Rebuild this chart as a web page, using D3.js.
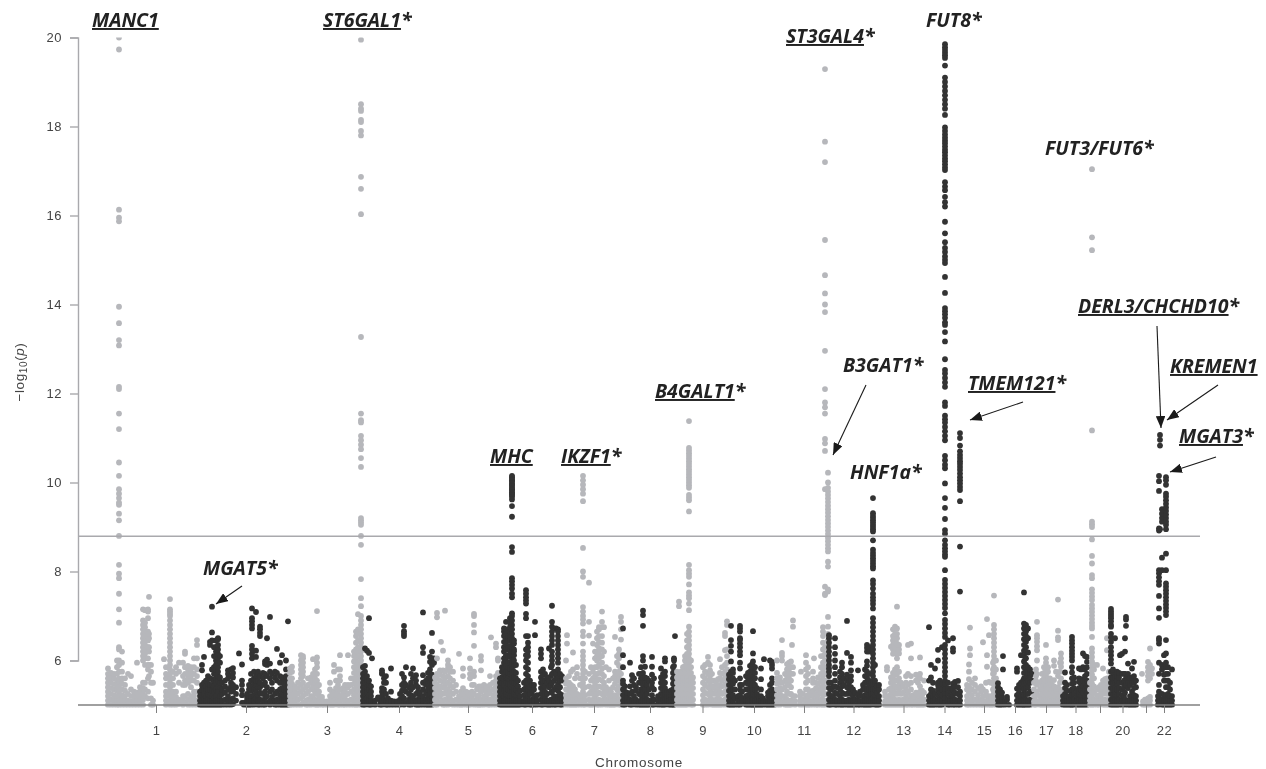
<!DOCTYPE html>
<html>
<head>
<meta charset="utf-8">
<title>Manhattan plot</title>
<script src="https://cdn.jsdelivr.net/npm/d3@7"></script>
<style>
  html, body { margin: 0; padding: 0; background: #fff; }
  #chart { width: 1266px; height: 769px; overflow: hidden; }
  svg { display: block; filter: blur(0.35px); }
  .gene { font-family: "Open Sans", sans-serif; font-weight: 700; font-style: italic; fill: #222; }
  .gene .name { text-decoration: underline; }
  .tick text, .axis-title { font-family: "Liberation Sans", sans-serif; fill: #444; }
</style>
</head>
<body>
<div id="chart"></div>
<script>
// Axis values
const yTicks = [6, 8, 10, 12, 14, 16, 18, 20];
const threshold = 8.79;
const chromosomeLabels = ['1','2','3','4','5','6','7','8','9','10','11','12','13','14','15','16','17','18','','20','','22'];
// Genome units: start of each chromosome and where its tick sits
const chromosomeStarts = [29,121,211,284,356,422,487,543,598,651,699,751,807,850,888,919,955,984,1010,1032,1064,1079];
const chromosomeTicks = [78,168,249,321,390,454,516,572,624.5,676,726,775.5,825.5,866.5,906,937,968,997.5,1022,1044.5,1068,1086];

// Each row: offset inside the chromosome, then the -log10(p) values read at that offset
const chr1 = [
  [1,5,5.1,5.2,5.3,5.4,5.5,5.6,5.7,5.82],
  [4,5,5.12,5.25,5.38,5.5,5.62,5.72],
  [7,5,5.1,5.22,5.35,5.47,5.6,5.7],
  [10,5,5.1,5.2,5.32,5.45,5.55,5.7,5.85,6.0],
  [12,20,19.73,16.13,15.95,15.87,13.95,13.58,13.2,13.08,12.15,12.1,11.55,11.2,10.45,10.15,9.85,9.75,9.65,9.55,9.5,9.3,9.15,8.8,8.15,7.95,7.85,7.5,7.15,6.85,6.3,6.25,6,5.9,5.75,5.6,5.5,5.4,5.3,5.2,5.1,5],
  [15,5,5.1,5.22,5.35,5.48,5.6,5.75,5.95,6.2],
  [18,5,5.1,5.2,5.32,5.45,5.6],
  [21,5,5.1,5.25,5.7],
  [24,5,5.08,5.2,5.35,5.65],
  [27,5,5.1,5.2,5.3],
  [30,5,5.1,5.2,5.28,5.95],
  [33,5,5.1,5.2,5.3,5.4],
  [36,5,5.12,5.25,5.38,5.5,6,6.1,6.2,6.3,6.4,6.5,6.6,6.7,6.8,6.9,7.15],
  [38,5.2,5.35,5.5,5.9,6.05,6.15,6.25,6.35,6.45,6.55,6.65,6.75,6.85,7.13],
  [41,5.15,5.3,5.6,5.8,5.9,6.05,6.3,6.45,6.55,6.65,6.95,7.15,7.1],
  [42,5.65,5.9,6.2,6.3,6.5,6.6,7.43],
  [44,5,5.15,5.5,5.75,5.9],
  [46,5,5.1,5.5],
  [57,6.03],
  [59,5,5.1,5.2,5.3,5.45,5.6,5.7,5.85],
  [63,5,5.1,5.2,5.3,5.4,5.5,5.6,5.7,5.8,5.9,6,6.1,6.2,6.3,6.4,6.5,6.6,6.7,6.8,6.9,7,7.05,7.1,7.15,7.38],
  [66,5,5.1,5.2,5.3,5.45,5.6,5.75],
  [69,5,5.1,5.18,5.3,5.7,5.85],
  [72,5.02,5.12,5.5,5.75,5.95],
  [76,5,5.1,5.2,5.45,5.65,5.95],
  [78,5.05,5.2,5.45,5.55,5.7,5.85,6.2,6.15],
  [81,5,5.12,5.25,5.5,5.6,5.7,5.8,5.88],
  [84,5,5.1,5.2,5.4,5.55,5.65,5.75,5.85],
  [87,5,5.1,5.2,5.3,5.55,5.7,5.85,6.05],
  [90,5,5.1,5.3,5.5,5.65,5.8,6.05,6.35,6.46]
];
const chr2 = [
  [1,5,5.1,5.2,5.3],
  [3,5,5.1,5.22,5.35,5.45,5.78,5.9],
  [5,5,5.12,5.25,5.38,5.5,6.08],
  [7,5,5.1,5.2,5.32,5.42,5.55],
  [9,5,5.12,5.25,5.35,5.47,5.58,5.65],
  [11,5,5.1,5.22,5.35,5.45,5.6,6.35,6.42],
  [13,5,5.1,5.2,5.32,5.45,5.58,5.8,6.45,6.63,7.21],
  [15,5,5.15,5.3,5.42,5.55,5.7,5.85,6.1,6.3],
  [17,5,5.1,5.2,5.35,5.5,5.6,5.7,5.8,5.9,6,6.1,6.2,6.3,6.45],
  [19,5,5.12,5.3,5.4,5.55,5.65,5.75,5.85,5.95,6.05,6.15,6.25,6.35,6.5,6.48],
  [21,5,5.1,5.2,5.4,5.5,5.62,5.95,6.1],
  [23,5,5.1,5.25,5.35,5.5],
  [26,5,5.12,5.28,5.42,5.55],
  [29,5,5.1,5.2,5.35,5.6,5.7,5.78],
  [32,5,5.12,5.3,5.42,5.5,5.65,5.8],
  [34,5.02,5.15,5.32,5.45,5.62,5.72,5.83],
  [37,5.1,5.25,5.4],
  [40,6.16],
  [43,5.05,5.22,5.33,5.45,5.55,5.91],
  [45,5,5.05],
  [48,5,5.1,5.18,5.25],
  [50,5,5.08,5.2,5.35,5.45],
  [52,5,5.1,5.2,5.32,5.42,5.55,5.7],
  [53,6.05,6.15,6.25,6.33,6.72,6.8,6.88,6.95,7.17],
  [55,5,5.1,5.22,5.35,5.48,5.6,5.75],
  [57,5.02,5.15,5.3,5.45,5.55,5.65,6.08,6.22,7.09],
  [59,5,5.1,5.22,5.4,5.55,5.7,5.75],
  [61,5,5.12,5.28,5.4,5.5,5.65,6.55,6.62,6.7,6.76],
  [64,5,5.1,5.25,5.45,5.6,5.72],
  [66,5,5.15,5.3,5.5,5.7,5.92,5.98],
  [68,5.05,5.2,5.4,5.65,5.9,6.02,6.5],
  [71,5,5.1,5.3,5.6,5.75,5.93,6.98],
  [73,5.05,5.18,5.35,5.5,5.7],
  [76,5,5.1,5.25,5.62,5.75],
  [78,5,5.12,5.3,5.55,5.72,6.26],
  [81,5,5.1,5.22,5.35,5.5,5.65,5.95],
  [83,5,5.12,5.25,5.38,5.52,5.62,6.12],
  [85,5,5.1,5.22,5.35,5.48,5.6],
  [87,5,5.12,5.25,5.38,5.5,5.65,5.8,6.0],
  [89,5,5.1,5.2,5.35,5.48,5.6,6.88]
];
const chr3 = [
  [1,5,5.1,5.2,5.3,5.4,5.5,5.6,5.72,5.82],
  [3,5,5.1,5.22,5.35,5.48,5.6,5.75,5.86],
  [6,5,5.1,5.2,5.3,5.42],
  [9,5,5.12,5.25,5.38,5.5],
  [12,5,5.15,5.3,5.45,5.6,5.7,5.8,5.9,6,6.12],
  [14,5.05,5.2,5.35,5.5,5.65,5.75,5.85,5.95,6.05,6.1],
  [17,5,5.1,5.25,5.4],
  [19,5,5.12,5.3,5.45,5.6],
  [22,5,5.1,5.2,5.35,5.5,5.62],
  [24,5.05,5.2,5.4,5.55,5.7,6.03],
  [26,5,5.12,5.3,5.5,5.6,5.7,5.8],
  [28,5,5.1,5.25,5.4,5.55,5.7,5.85,5.95,6.07,7.11],
  [30,5,5.1,5.2,5.3,5.45],
  [33,5,5.1,5.18],
  [35,5,5.08],
  [38,5,5.08],
  [41,5,5.1,5.2,5.35,5.5],
  [43,5,5.12,5.3],
  [45,5,5.1,5.2,5.3,5.75,5.9],
  [47,5.05,5.22,5.38,5.55],
  [49,5,5.12,5.3,5.45,5.55,5.8],
  [51,5,5.1,5.2,5.35,5.55,5.65,5.8,6.12],
  [54,5,5.12,5.25,5.38],
  [56,5,5.1,5.2,5.32,5.45],
  [59,5,5.1,5.25,5.4,5.45,6.12],
  [62,5,5.12,5.3,5.45,5.6],
  [65,5,5.1,5.22,5.35,5.48,5.6,5.72,5.85,5.98,6.1,6.2],
  [67,5,5.12,5.25,5.38,5.5,5.62,5.75,5.88,6,6.12,6.25,6.4,6.55,6.65],
  [69,5,5.1,5.2,5.33,5.45,5.58,5.7,5.83,5.95,6.08,6.2,6.3,6.45,6.6,6.7,7.04],
  [72,19.95,18.5,18.4,18.35,18.15,18.1,17.9,17.8,16.87,16.6,16.03,13.27,11.55,11.4,11.35,11.05,10.95,10.85,10.75,10.55,10.35,9.2,9.15,9.1,9.05,8.8,8.6,7.83,7.4,7.22,7,6.9,6.8,6.7,6.6,6.5,6.4,6.3,6.2,6.1,6,5.9,5.8,5.7,5.6,5.5,5.4,5.3,5.2,5.1,5]
];
const chr4 = [
  [1,5,5.1,5.2,5.3,5.4,5.5,5.6,5.7,5.85],
  [3,5,5.12,5.25,5.38,5.5,5.62,5.75,5.88,6.27],
  [5,5.02,5.15,5.28,5.4,5.52,5.65,6.22],
  [7,5,5.1,5.22,5.35,5.45,5.55,6.17,6.95],
  [9,5,5.1,5.2,5.3,5.42],
  [10,6.05],
  [13,5,5.1],
  [16,5.17],
  [18,5,5.1],
  [20,5,5.1,5.2,5.3,5.38,5.7,5.72,5.78],
  [22,5.02,5.12,5.25,5.35,5.5,5.6],
  [24,5,5.1,5.25,5.5,5.65],
  [26,5,5.1,5.15],
  [29,5,5.1,5.3,5.82],
  [32,5,5.08],
  [35,5,5.08],
  [38,5,5.12,5.25],
  [40,5.05,5.2,5.32,5.45,5.7],
  [42,5,5.15,5.4,5.5,5.62,6.55,6.6,6.66,6.78],
  [44,5.05,5.3,5.45,5.85],
  [47,5,5.12,5.25,5.4],
  [49,5,5.1,5.22,5.35,5.5,5.7],
  [51,5.05,5.18,5.4,5.6,5.82],
  [54,5,5.1,5.25,5.45,5.55,5.67],
  [56,5,5.12,5.3,5.4],
  [58,5,5.1,5.2,5.28],
  [61,5,5.1,5.2,5.35,5.5,5.67,6.17,6.3,7.08],
  [64,5,5.12,5.28,5.45,5.55],
  [66,5,5.1,5.22,5.35,5.48,5.6,5.72],
  [68,5,5.12,5.25,5.38,5.5,5.62,5.8,5.97,6.08],
  [70,5,5.1,5.2,5.32,5.45,5.58,5.68,5.9,6.05,6.2,6.62],
  [72,5.1,5.3,5.5,5.65,5.95,6.05]
];
const chr5 = [
  [1,5,5.12,5.25,5.38,5.5,5.62],
  [3,5,5.1,5.22,5.35,5.45,5.6,5.7,6.05,6.97,7.07],
  [6,5.05,5.18,5.3,5.42,5.55,5.68,5.78],
  [7,6.42],
  [9,5,5.1,5.25,5.4,5.52,5.65,5.78,6.22],
  [11,5,5.12,5.28,5.4,5.5,5.62,5.75,7.12],
  [14,5,5.1,5.22,5.35,5.5,5.65,5.82,5.9,6],
  [16,5.02,5.15,5.3,5.45,5.6,5.75,5.85],
  [19,5,5.1,5.25,5.4,5.55,5.75],
  [22,5,5.12,5.3,5.45],
  [25,5,5.1,5.2,6.15],
  [27,5,5.1,5.2,5.3],
  [29,5,5.12,5.25,5.38,5.65,5.82],
  [32,5,5.1,5.2,5.3],
  [34,5,5.1,5.18,5.28],
  [36,5,5.1,5.22,5.6,5.7,5.82,6.05],
  [38,5.05,5.15,5.3,5.45],
  [40,5,5.1,5.25,5.45,5.65,5.75,6.33,6.63,6.8,7,7.05],
  [43,5,5.12,5.2,5.35],
  [45,5,5.1,5.22,5.42],
  [47,5,5.12,5.3,5.42,5.78,6,6.1],
  [50,5,5.1,5.2,5.35,5.45],
  [52,5.05,5.18,5.3,5.42],
  [54,5,5.1,5.25,5.38],
  [56,5,5.12,5.3,5.45,5.65],
  [57,6.52],
  [59,5,5.1,5.22,5.35,5.5],
  [62,5,5.12,5.28,5.42,5.55,5.65,6.3,6.38],
  [64,5.05,5.2,5.35,5.5,5.6,5.72,6,6.05]
];
const chr6 = [
  [0,5,5.1,5.2,5.3,5.4,5.5,5.6],
  [2,5,5.12,5.25,5.38,5.5,5.62,5.75,5.85],
  [4,5,5.1,5.2,5.32,5.45,5.58,5.7,5.82,5.95,6.05,6.2,6.3,6.42,6.55,6.65,6.72],
  [6,5,5.12,5.25,5.38,5.5,5.62,5.75,5.88,6,6.12,6.25,6.38,6.5,6.6,6.7,6.87],
  [8,5,5.1,5.22,5.35,5.48,5.6,5.72,5.85,5.95,6.1,6.28,6.45,6.55],
  [10,5,5.1,5.2,5.32,5.45,5.58,5.7,5.82,5.95,6.08,6.2,6.32,6.45,6.55,6.65,6.75,6.85,6.95],
  [12,10.15,10.12,10.08,10.05,10.02,9.98,9.95,9.92,9.88,9.85,9.82,9.78,9.75,9.72,9.68,9.62,9.47,9.23,8.55,8.44,7.85,7.78,7.7,7.62,7.5,7.42,7.06,7,6.9,6.8,6.7,6.6,6.5,6.4,6.3,6.2,6.1,6,5.9,5.8,5.7,5.6,5.5,5.4,5.3,5.2,5.1,5],
  [14,5,5.12,5.25,5.38,5.5,5.62,5.75,5.88,6,6.12,6.25,6.38,6.45,6.2],
  [16,5,5.1,5.22,5.35,5.48,5.6,5.72,5.9],
  [18,5,5.12,5.28,5.42,5.55],
  [20,5,5.1,5.2,5.32],
  [24,5,5.1,5.22,5.35,5.5],
  [26,5,5.12,5.25,5.4,5.55,5.7,5.85,6,6.12,6.25,6.55,6.95,7.05,7.28,7.35,7.42,7.5,7.58],
  [28,5.05,5.2,5.35,5.5,5.65,5.8,5.95,6.1,6.2,6.3,6.4,6.55],
  [30,5,5.1,5.25,5.4,5.55],
  [32,5,5.12,5.3,5.45],
  [34,5,5.1,5.2,5.35,5.45],
  [35,6.57,6.87],
  [37,5,5.1,5.22],
  [41,5,5.12,5.25,5.38,5.5,5.62,5.75,6.05,6.15,6.25],
  [43,5,5.1,5.2,5.32,5.45,5.55,5.68,5.8],
  [45,5.05,5.18,5.3,5.42,5.55,5.7],
  [47,5,5.1,5.25,5.5,5.62],
  [49,5,5.1,5.4,5.55,6.27],
  [51,5,5.12,5.28,5.45,5.65,5.85],
  [52,5.1,5.3,5.5,5.7,5.9,6,6.1,6.2,6.35,6.45,6.55,6.65,6.76,6.87,7.23],
  [54,5,5.1,5.2,5.35,5.55,5.75],
  [56,5,5.15,5.4,5.6,5.7,6.72],
  [58,5.05,5.2,5.32,5.48,5.6,5.8,5.95,6.05,6.15,6.25,6.35,6.45,6.55,6.65,6.7],
  [60,5,5.12,5.25,5.4,5.55,5.7],
  [62,5,5.1,5.22,5.55,5.65]
];
const chr7 = [
  [1,5,5.1,5.22,5.35,5.48,5.6,6],
  [2,6.38,6.57],
  [4,5,5.12,5.25,5.38,5.5,5.65],
  [6,5,5.1,5.2,5.32,5.45,5.75],
  [8,5,5.12,5.28,5.42,5.8,6.18],
  [10,5,5.1,5.22,5.35,5.6],
  [12,5,5.12,5.25,5.7,5.85],
  [15,5,5.1,5.22,5.45,5.6],
  [18,10.15,10.05,9.95,9.85,9.75,9.58,8.53,8,7.88,7.2,7.1,7,6.92,6.83,6.65,6.55,6.38,6.2,6.1,6,5.9,5.8,5.7,5.6,5.5,5.4,5.3,5.2,5.1,5],
  [20,5,5.1,5.22,5.4,5.6,5.75],
  [24,5,5.12,5.25,5.42,5.7,6.56,6.87,7.75],
  [26,5,5.1,5.3,5.55,5.85],
  [28,5,5.12,5.25,5.4,5.6,5.75,6.38],
  [30,5.05,5.2,5.35,5.5,5.65,5.85,6.05,6.2],
  [32,5,5.1,5.25,5.4,5.55,5.7,5.85,6,6.1,6.2,6.35,6.5,6.65],
  [34,5,5.12,5.28,5.42,5.58,5.72,5.9,6.05,6.15,6.28,6.42,6.55,6.7,6.75],
  [37,5,5.1,5.25,5.4,5.55,5.7,5.82,5.95,6.1,6.25,6.4,6.55,6.75,6.87,7.1],
  [39,5.05,5.2,5.35,5.5,5.65,6.2,6.75],
  [41,5,5.12,5.28,5.4,5.85],
  [44,5,5.1,5.22,5.35,5.55,5.8],
  [46,5,5.12,5.3],
  [48,5,5.1,5.2,5.4,5.6],
  [50,5,5.1,5.22,5.48,5.65,5.75,6.53],
  [52,5.05,5.2,5.35,5.55,5.7,5.95,6.1],
  [54,5,5.12,5.28,5.42,5.6,5.75,5.88,6.05,6.15,6.25],
  [56,5,5.1,5.3,5.5,5.7,5.85,6.47,6.7,6.87,6.98]
];
const chr8 = [
  [2,5,5.1,5.22,5.35,5.48,5.55,5.85,6.12,6.72],
  [4,5,5.12,5.3,5.42],
  [6,5.05,5.18,5.28],
  [9,5,5.12,5.25,5.42,5.95],
  [11,5,5.1,5.3,5.55,5.67],
  [13,5.05,5.2,5.45,5.6],
  [15,5,5.12,5.32,5.4],
  [18,5,5.08,5.25,5.5,5.7],
  [20,5,5.1,5.22,5.35,5.5,5.6,5.7,5.85],
  [22,5,5.12,5.3,5.45,5.6,5.72,6,6.1,6.78,7.02,7.12],
  [24,5,5.08,5.2,5.35,5.5,5.62,5.86],
  [26,5,5.12,5.25,5.45,5.6],
  [28,5,5.1,5.35,5.55],
  [31,5,5.1,5.22,5.4,5.5,5.68,5.86,6.08],
  [33,5,5.12,5.35,5.6],
  [37,5,5.1,5.2],
  [40,5,5.12,5.25,5.38,5.5,5.62,5.82],
  [42,5,5.1,5.22,5.35,5.45,5.55,5.7],
  [44,5,5.12,5.25,5.38,5.5,5.65,5.75,5.98,6.05],
  [46,5.05,5.18,5.3],
  [48,5,5.1,5.2,5.3],
  [50,5,5.12,5.22,5.33],
  [52,5,5.1,5.22,5.35,5.48,5.6,5.72,5.85],
  [53,5,5.12,5.25,5.38,5.5,5.62,5.75,5.88,6,6.05],
  [54,6.55]
];
const chr9 = [
  [1,5,5.12,5.25,5.38,5.5,5.62,5.75],
  [3,5,5.1,5.22,5.35,5.48,5.6,5.7,7.22,7.32],
  [5,5,5.12,5.25,5.38,5.5,5.62,5.75],
  [7,5,5.1,5.22,5.35,5.48,5.6,5.72,5.85],
  [9,5,5.12,5.25,5.38,5.5,5.62,5.75,5.88,6,6.1],
  [11,5,5.1,5.22,5.35,5.48,5.6,5.72,5.85,5.95,6.05,6.15,6.3,6.45,6.6],
  [13,11.38,10.78,10.72,10.66,10.6,10.54,10.48,10.42,10.36,10.3,10.24,10.18,10.12,10.06,10,9.94,9.88,9.72,9.66,9.6,9.35,8.15,8.03,7.95,7.88,7.71,7.53,7.46,7.4,7.28,7.13,6.76,6.65,6.55,6.45,6.35,6.25,6.15,6.05,5.95,5.85,5.75,5.65,5.55,5.45,5.35,5.25,5.15,5.05],
  [15,5,5.1,5.22,5.35,5.48,5.6,5.72,5.85,6],
  [17,5,5.12,5.25,5.38,5.5,5.62],
  [27,5,5.1,5.22,5.35,5.5,5.65,5.85],
  [29,5,5.12,5.28,5.45,5.6,5.75,5.9],
  [32,5,5.1,5.25,5.4,5.55,5.7,5.95,6.08],
  [34,5.05,5.2,5.35,5.5,5.65,5.78,5.9],
  [36,5,5.12,5.28,5.42,5.55,5.7],
  [38,5,5.1,5.25,5.4,5.55],
  [40,5,5.12,5.3,5.5],
  [42,5,5.1,5.22,5.4,5.58],
  [44,5,5.12,5.3,5.45,5.6,5.72,6.03],
  [46,5,5.1,5.25,5.42,5.55,5.7,5.85],
  [49,5,5.12,5.3,5.45,5.6,5.75,5.9,6.23,6.55,6.62],
  [51,5.05,5.2,5.35,5.5,5.65,5.8,5.95,6.1,6.25,6.8,6.88],
  [52,5,5.12,5.3,5.5,5.65]
];
const chr10 = [
  [0,5,5.1,5.2,5.32,5.45,5.58,5.68],
  [2,5,5.12,5.25,5.38,5.5,5.62,5.75,5.98,6.2,6.33,6.46,6.78],
  [4,5,5.1,5.22,5.35,5.48,5.6,5.72,5.8],
  [6,5,5.15,5.35,5.55],
  [9,5,5.1,5.2],
  [11,5,5.1,5.22,5.35,5.45,5.6,5.82,5.95,6.12,6.2,6.3,6.38,6.46,6.5,6.65,6.72,6.78],
  [13,5.05,5.15,5.3,5.45],
  [17,5,5.1,5.2,5.35,5.5,5.65],
  [19,5,5.1,5.22,5.35,5.48,5.6,5.72],
  [21,5,5.12,5.25,5.38,5.5,5.62,5.75,5.88],
  [23,5,5.1,5.2,5.32,5.45,5.58,5.7,5.82,5.92],
  [24,5,5.12,5.25,5.38,5.5,5.62,5.75,5.88,5.98,6.16,6.66],
  [26,5,5.1,5.22,5.35,5.45,5.6,5.72,5.85],
  [28,5,5.12,5.25,5.38],
  [30,5,5.1,5.18],
  [32,5,5.1,5.2,5.35,5.58,5.82],
  [34,5,5.08,5.15],
  [35,6.03],
  [37,5,5.08],
  [39,5,5.1,5.2,5.28],
  [41,5,5.1,5.22,5.32,5.45,6],
  [43,5,5.12,5.25,5.35,5.5,5.6,5.82,5.9,5.97],
  [45,5,5.1,5.2,5.3]
];
const chr11 = [
  [0,5,5.1,5.22,5.35,5.48,5.6,5.72,6],
  [3,5,5.12,5.25,5.38,5.5,5.62],
  [5,5.05,5.2,5.35,5.5,6,6.1,6.17,6.46],
  [8,5,5.1,5.2,5.4,5.55,5.7],
  [10,5,5.12,5.3,5.5,5.65,5.8,5.92],
  [12,5,5.1,5.25,5.45,5.6,5.75,5.85,5.95],
  [14,5,5.1,5.25,5.4,5.55,5.7,5.85,5.98],
  [15,6.35],
  [16,5.05,5.2,5.7,5.85,6.76,6.9],
  [18,5,5.08,5.2],
  [23,5,5.1,5.2,5.3],
  [24,5.75],
  [26,5,5.12,5.25],
  [29,5,5.1,5.2,5.35,5.5,5.65,5.8,5.95,6.12],
  [31,5,5.1,5.22,5.35,5.55,5.7,5.85],
  [33,5,5.08,5.2,5.3],
  [36,5,5.1,5.22,5.32,5.5,5.6,5.75],
  [37,6.05],
  [39,5,5.12,5.25,5.38,5.5],
  [41,5,5.1,5.22,5.35,5.48,5.62],
  [44,5,5.12,5.28,5.4,5.55,5.7,5.85,6.1],
  [46,5,5.1,5.22,5.35,5.5,5.65,5.8,5.95,6.1,6.25,6.4,6.55,6.65,6.75],
  [48,19.29,17.66,17.2,15.45,14.66,14.25,14,13.83,12.96,12.1,11.8,11.69,11.55,10.98,10.88,10.71,9.85,7.66,7.5,7.47,6.3,6.15,6,5.85,5.7,5.55,5.4,5.25,5.1,5],
  [51,10.22,10,9.88,9.8,9.72,9.64,9.56,9.48,9.4,9.32,9.24,9.16,9.08,9,8.92,8.84,8.76,8.68,8.6,8.52,8.45,8.22,8.11,7.6,7.55,6.98,6.76,6.6,6.45,6.3,6.15,6,5.85,5.7,5.55,5.4,5.25,5.1,5]
];
const chr12 = [
  [0,5,5.12,5.25,5.38,5.5,5.65,5.75,5.82,5.9,6,6.1,6.2,6.3,6.4,6.5,6.57],
  [2,5,5.1,5.2,5.35,5.5],
  [4,5.05,5.2,5.4],
  [6,5,5.12,5.28,5.42,5.55,5.7,5.85,6,6.15,6.3,6.5],
  [8,5,5.1,5.25,5.4],
  [11,5,5.1,5.2,5.35,5.5,5.62,5.75],
  [13,5,5.12,5.28,5.42,5.55,5.7,5.85,5.95],
  [15,5,5.1,5.25,5.45,5.6],
  [18,5,5.1,5.25,5.4,5.55,5.68,6.17,6.89],
  [20,5,5.12,5.3,5.5,5.6],
  [22,5,5.1,5.25,5.4,5.55,5.65,5.78,5.95,6.08],
  [24,5,5.1,5.2,5.35],
  [26,5,5.12,5.28],
  [29,5,5.1,5.22,5.78],
  [31,5,5.08,5.2,5.3],
  [34,5,5.1,5.2,5.35,5.45],
  [36,5,5.1,5.22,5.35,5.5,5.65,5.8],
  [38,5,5.12,5.25,5.38,5.5,5.62,5.75,5.88,5.98,6.2,6.28,6.35],
  [40,5,5.1,5.22,5.35,5.48,5.55,5.7,6.2,6.3],
  [42,5,5.12,5.25,5.38,5.5],
  [44,9.65,9.31,9.25,9.2,9.15,9.1,9.05,9,8.95,8.9,8.7,8.49,8.42,8.36,8.3,8.24,8.18,8.12,8.07,7.8,7.72,7.62,7.5,7.42,7.35,7.27,7.17,6.95,6.85,6.75,6.65,6.55,6.45,6.35,6.25,6.15,6.05,5.95,5.85,5.75,5.65,5.55,5.45,5.35,5.25,5.15,5.05],
  [46,5,5.1,5.22,5.35,5.48,5.55,5.9],
  [48,5,5.12,5.28,5.42],
  [50,5,5.1,5.2,5.35,5.45]
];
const chr13 = [
  [0,5,5.08,5.2,5.3],
  [2,5,5.1,5.2,5.78,5.85],
  [4,5,5.1,5.2,5.35],
  [6,5,5.12,5.25,5.38,5.5,5.62,6.31],
  [8,5,5.1,5.22,5.35,5.48,5.6,5.72,6.15,6.25,6.35,6.45,6.55,6.7],
  [10,5,5.12,5.28,5.42,5.55,5.68,5.8,6.2,6.3,6.42,6.5,6.6,6.76],
  [12,5,5.1,5.25,5.4,5.55,5.7,5.85,6.05,6.15,6.28,6.38,6.5,6.6,6.72,7.21],
  [14,5,5.12,5.3,5.45,5.6,5.75,6.16,6.25,6.35],
  [16,5,5.1,5.25,5.4,5.5],
  [18,5,5.12,5.28,5.42],
  [21,5,5.1,5.2,5.35,5.5,5.65],
  [23,5,5.12,5.28,5.45,5.7,6.35],
  [26,5,5.1,5.2,5.35,5.5,5.65,6.05,6.38],
  [28,5,5.1,5.22],
  [31,5,5.1,5.18,5.28,5.55,5.68],
  [33,5,5.12,5.25,5.5,5.65],
  [35,5,5.1,5.2,5.3,5.42,5.6,5.7,6.07],
  [37,5,5.1,5.22,5.32],
  [39,5,5.12,5.28,5.55]
];
const chr14 = [
  [1,5,5.1,5.2,5.55,6.75],
  [3,5,5.12,5.25,5.35,5.62,5.9],
  [5,5,5.1,5.2,5.32,5.5],
  [7,5,5.12,5.25,5.82],
  [10,5,5.1,5.22,5.35,5.45,5.5,6,6.24],
  [12,5,5.12,5.28,5.42,5.5,5.55],
  [14,5,5.1,5.22,5.35,5.48,6.3],
  [17,19.85,19.78,19.72,19.66,19.6,19.54,19.37,19.1,19,18.9,18.8,18.7,18.6,18.5,18.4,18.26,17.98,17.9,17.82,17.75,17.68,17.62,17.55,17.48,17.42,17.35,17.28,17.22,17.15,17.08,17.02,16.75,16.65,16.57,16.42,16.3,16.2,15.86,15.6,15.4,15.27,15.18,15.08,15,14.93,14.62,14.26,13.92,13.85,13.78,13.7,13.6,13.54,13.38,13.17,12.77,12.53,12.45,12.35,12.25,12.15,11.8,11.72,11.5,11.42,11.35,11.25,11.15,11.05,10.95,10.6,10.5,10.4,10.32,9.98,9.65,9.43,9.18,8.93,8.85,8.7,8.6,8.52,8.45,8.38,8.33,8.03,7.81,7.72,7.63,7.54,7.45,7.36,7.27,7.18,7.06,6.91,6.82,6.72,6.62,6.53,6.35,6.25,6.15,6.05,5.95,5.85,5.75,5.65,5.55,5.45,5.35,5.25,5.15,5.05],
  [20,5,5.12,5.25,5.38,5.5,6.45],
  [22,5,5.1,5.2,5.32],
  [24,5.05,5.2,5.38],
  [25,5,5.1,5.22,5.35,5.48,6.2,6.27,6.5],
  [27,5,5.12,5.28,5.42,5.52],
  [30,5,5.1,5.25,5.4,5.54],
  [32,11.11,11,10.83,10.7,10.62,10.55,10.48,10.42,10.35,10.28,10.2,10.12,10.05,9.98,9.9,9.83,9.58,8.56,7.55,5,5.1,5.2,5.3]
];
const chr15 = [
  [1,5,5.1,5.2,5.35,5.45],
  [3,5,5.12,5.28,5.42,5.58,5.75,5.91],
  [4,6.12,6.27,6.74],
  [6,5,5.1,5.22,5.35,5.5],
  [9,5,5.12,5.3,5.45,5.6],
  [12,5,5.1,5.22,5.38],
  [15,5,5.12,5.3,5.42],
  [17,5,5.1,5.2,5.35,6.41],
  [20,5,5.08,5.22,5.3,5.5],
  [21,5.1,5.86,6.12,6.93],
  [23,5,5.1,5.2,5.52,6.57],
  [25,5,5.08,5.15,5.5],
  [27,5,5.1,5.22,5.35,5.5,5.7,5.8,5.95],
  [28,5.05,5.15,5.3,5.45,5.6,5.72,5.85,6,6.1,6.2,6.3,6.4,6.5,6.6,6.7,6.8,7.46],
  [30,5,5.1,5.25,5.4,5.6,5.8,6]
];
const chr16 = [
  [1,5,5.1,5.2,5.3,5.4,5.49],
  [3,5,5.12,5.25,5.35],
  [5,5,5.1,5.18,5.28],
  [6,5.8,6.1],
  [8,5,5.08],
  [10,5.18,5.12],
  [12,5],
  [20,5,5.1,5.22,5.37,5.75,5.82],
  [22,5,5.12,5.28,5.45],
  [24,5,5.1,5.2,5.38,5.5,6.12],
  [26,5,5.12,5.25,5.4,5.55],
  [27,5,5.1,5.22,5.35,5.48,5.6,5.72,5.85,5.98,6.1,6.22,6.35,6.48,6.6,6.72,6.83,7.53],
  [29,5,5.12,5.25,5.38,5.5,5.62,5.75,5.9,6.05,6.18,6.3,6.42,6.55,6.65,6.8],
  [31,5,5.1,5.25,5.4,5.55,5.7,5.85,6.18,6.5,6.72],
  [33,5,5.12,5.3,5.5,5.65,5.72,5.8],
  [35,5.1,5.3,5.55,5.7]
];
const chr17 = [
  [1,5,5.08,5.2,5.35,5.5],
  [3,5,5.1,5.22,5.55,5.65,5.8],
  [4,5.3,5.45,5.7,6,6.23,6.32,6.42,6.5,6.57,6.87],
  [7,5,5.1,5.2,5.35,5.5],
  [9,5,5.12,5.25,5.4,5.55,5.7],
  [11,5,5.1,5.22,5.35,5.48,5.6,5.72,5.85],
  [13,5,5.12,5.28,5.42,5.55,5.68,5.8,5.95,6.05,6.35],
  [15,5,5.1,5.22,5.35,5.48,5.6,5.75,5.85],
  [17,5,5.12,5.25,5.38,5.5,5.6],
  [19,5,5.1,5.2,5.35,5.45],
  [21,5,5.12,5.28,5.42,5.56,5.88,6],
  [23,5,5.1,5.2,5.33,5.75],
  [25,5,5.12,5.25,5.4,5.65,6.46,6.52,6.67,7.37],
  [27,5,5.1,5.2,5.35,5.5,5.75,5.95],
  [28,5.02,5.15,5.3,5.6,5.86,5.95,6.05,6.16]
];
const chr18 = [
  [1,5,5.1,5.2],
  [3,5,5.12,5.25,5.38,5.5,5.73],
  [5,5,5.1,5.2,5.32,5.45],
  [7,5,5.1,5.18],
  [9,5,5.12,5.22,5.32],
  [10,5,5.1,5.22,5.35,5.48,5.6,5.73,5.85,6,6.08,6.15,6.22,6.3,6.38,6.45,6.53],
  [12,5,5.12,5.25,5.38,5.5,5.62],
  [15,5,5.1,5.2,5.32],
  [17,5,5.12,5.25,5.38,5.52,5.6,5.82],
  [19,5,5.1,5.22,5.35,5.48,5.58,5.8],
  [21,5,5.12,5.28,5.42,5.55,5.85,6.16],
  [23,5,5.1,5.2,5.35,5.5,5.65,5.8,6.1],
  [25,5,5.12,5.28,5.42,5.55,5.7,5.85,5.97,6.08]
];
const chr19 = [
  [2,5,5.1,5.2,5.35,5.5],
  [4,17.04,15.51,15.22,11.17,9.12,9.06,9,8.72,8.35,8.18,7.92,7.85,7.6,7.52,7.44,7.36,7.25,7.17,7.09,7.01,6.93,6.85,6.78,6.72,6.53,6.27,6.18,6.08,5.98,5.88,5.78,5.68,5.58,5.48,5.38,5.28,5.18,5.08,5],
  [6,5,5.12,5.28,5.42,5.6,5.8,5.9],
  [9,5,5.1,5.22,5.35,5.9],
  [11,5,5.08,5.2,5.4],
  [13,5.05,5.15,5.3,5.45],
  [15,5,5.1,5.25,5.4,5.55,5.82],
  [17,5,5.12,5.3,5.45,5.58],
  [19,5,5.1,5.25,5.38,5.5,5.6,6.23,6.5],
  [21,5,5.12,5.3,5.45,5.6,5.75]
];
const chr20 = [
  [1,5,5.12,5.25,5.38,5.5,5.62,5.75,5.93,6.02,6.12,6.2,6.3,6.42,6.52,6.6,6.76,6.8,6.88,6.95,7,7.05,7.1,7.16],
  [3,5,5.1,5.22,5.35,5.48,5.6,5.72,5.8],
  [5,5,5.12,5.25,5.38,5.5,5.62,6.5],
  [7,5,5.1,5.22,5.35,5.48,5.55,5.65,5.75],
  [9,5,5.12,5.25,5.38,5.5,5.62,5.72],
  [10,6.12],
  [12,5,5.1,5.22,5.35,5.5,5.7,6.15],
  [14,5.05,5.2,5.4,5.55,5.7],
  [15,5,5.12,5.28,5.7,6.2,6.5],
  [16,5.45,5.6,6.78,6.92,6.98],
  [18,5,5.1,5.38,5.5,5.7,5.93],
  [20,5,5.1,5.2,5.45,5.6],
  [22,5,5.1,5.2,5.3,5.5,5.62,5.82],
  [24,5,5.12,5.22,5.38,5.5,5.65,5.97],
  [26,5,5.1,5.2,5.4,5.55]
];
const chr21 = [
  [0,5.7],
  [1,5,5.08],
  [3,5,5.08,5.12],
  [5,5,5.08],
  [6,5.02,5.15,5.55,5.65,5.75,5.85,5.97],
  [8,5,5.1,5.18,5.6,5.8,5.9,6.27],
  [10,5.7,5.82]
];
const chr22 = [
  [1,5,5.1,5.2],
  [2,5.05,5.15,5.3,5.45,5.7,5.95,6.38,6.45,6.5,6.96,7.17,7.45,7.7,7.78,7.87,7.96,8.03,8.92,8.97,9.81,10.03,10.15],
  [3,8.95,10.83,10.96,11.07],
  [5,5,5.12,5.25,5.8,5.9,8.03,8.31,9.12,9.2,9.3,9.4],
  [7,5,5.1,5.22,5.55,5.68,5.85,6.12],
  [9,5,5.1,5.22,5.4,5.55,5.7,5.85,5.95,6.16,6.46,7.02,7.1,7.18,7.26,7.34,7.42,7.5,7.58,7.66,7.73,8.03,8.4,8.95,9.05,9.12,9.2,9.28,9.36,9.44,9.52,9.6,9.68,9.75,9.95,10.05,10.12],
  [11,5,5.12,5.25,5.4,5.55,5.7,5.85],
  [13,5,5.1,5.2,5.35,5.5],
  [15,5,5.1,5.2,5.8]
];
const chromosomes = [chr1,chr2,chr3,chr4,chr5,chr6,chr7,chr8,chr9,chr10,chr11,chr12,chr13,chr14,chr15,chr16,chr17,chr18,chr19,chr20,chr21,chr22];

// Gene annotations: name, trailing star, underlined
const geneNames = ['MANC1','ST6GAL1','ST3GAL4','FUT8','FUT3/FUT6','DERL3/CHCHD10','KREMEN1','MGAT3','B3GAT1','TMEM121','HNF1a','B4GALT1','MHC','IKZF1','MGAT5'];
const geneStars = [false,true,true,true,true,true,false,true,true,true,true,true,false,true,true];
const geneUnderlined = [true,true,true,false,false,true,true,true,false,true,false,true,true,true,false];
// Left edge and baseline of each annotation, in page pixels
const geneLabelX = [92,323,786,926,1045,1078,1170,1179,843,968,850,655,490,561,203];
const geneLabelY = [27,27,43,27,155,313,373,443,372,390,479,398,463,463,575];
// Arrows: [x1, y1, x2, y2] in page pixels
const arrows = [[242,586,216,604],[866,385,833,455],[1023,402,970,420],[1157,326,1161,428],[1218,385,1167,420],[1216,457,1170,472]];

const width = 1266;
const height = 769;
const colors = { light: '#b6b7bb', dark: '#333333', axis: '#a9a9ad', baseline: '#808080' };

const svg = d3.select('#chart').append('svg').attr('width', width).attr('height', height);

const xScale = d3.scaleLinear().domain([0, 1122]).range([78, 1200]);
const yScale = d3.scaleLinear().domain([5, 20]).range([705, 37.5]);

/**
 * Flatten the chromosome tables into one point per value
 * @returns {Array} points with genome position, value and chromosome index
 */
function buildPoints() {
  return chromosomes.flatMap((rows, i) => rows.flatMap(([offset, ...values]) =>
    values.map(value => ({ pos: chromosomeStarts[i] + offset, value, chrom: i }))));
}

function renderPoints() {
  svg.append('clipPath').attr('id', 'plot-clip')
    .append('rect')
    .attr('x', 70).attr('y', yScale(20))
    .attr('width', 1140).attr('height', 707.5 - yScale(20));

  svg.append('g')
    .attr('clip-path', 'url(#plot-clip)')
    .selectAll('circle')
    .data(buildPoints())
    .join('circle')
    .attr('cx', d => xScale(d.pos))
    .attr('cy', d => yScale(d.value))
    .attr('r', 2.9)
    .attr('fill', d => d.chrom % 2 === 0 ? colors.light : colors.dark);
}

function renderAxes() {
  // Left axis only runs from 6 up to 20
  const yAxisScale = d3.scaleLinear().domain([6, 20]).range([yScale(6), yScale(20)]);
  const yAxis = svg.append('g')
    .attr('transform', `translate(${xScale(0)},0)`)
    .call(d3.axisLeft(yAxisScale).tickValues(yTicks).tickSize(8).tickPadding(8));
  yAxis.selectAll('path, line').attr('stroke', colors.axis).attr('stroke-width', 1.4);
  yAxis.selectAll('text').attr('font-size', 13).attr('letter-spacing', 0.5);

  const xAxis = svg.append('g')
    .attr('transform', `translate(0,${yScale(5)})`)
    .call(d3.axisBottom(xScale).tickValues(chromosomeTicks).tickSize(8).tickPadding(13)
      .tickFormat((d, i) => chromosomeLabels[i]));
  xAxis.select('.domain').remove();
  xAxis.selectAll('line').attr('stroke', colors.baseline).attr('stroke-width', 1);
  xAxis.selectAll('text').attr('font-size', 13).attr('letter-spacing', 0.5);

  // Baseline and genome-wide significance line
  svg.append('line')
    .attr('x1', xScale.range()[0]).attr('x2', xScale.range()[1])
    .attr('y1', yScale(5)).attr('y2', yScale(5))
    .attr('stroke', colors.baseline).attr('stroke-width', 1.5);
  svg.append('line')
    .attr('x1', xScale.range()[0]).attr('x2', xScale.range()[1])
    .attr('y1', yScale(threshold)).attr('y2', yScale(threshold))
    .attr('stroke', colors.axis).attr('stroke-width', 1.5);

  svg.append('text')
    .attr('class', 'axis-title')
    .attr('x', 639).attr('y', 767)
    .attr('text-anchor', 'middle')
    .attr('font-size', 13.5).attr('letter-spacing', 0.7)
    .text('Chromosome');

  const yTitle = svg.append('text')
    .attr('class', 'axis-title')
    .attr('transform', 'translate(24,372) rotate(-90)')
    .attr('text-anchor', 'middle')
    .attr('font-size', 13.5)
    .attr('letter-spacing', 0.6);
  yTitle.append('tspan').text('\u2212log');
  yTitle.append('tspan').attr('font-size', 10).attr('dy', 3).text('10');
  yTitle.append('tspan').attr('dy', -3).text('(');
  yTitle.append('tspan').attr('font-style', 'italic').text('p');
  yTitle.append('tspan').text(')');
}

function renderAnnotations() {
  svg.append('defs').append('marker')
    .attr('id', 'arrow-head')
    .attr('viewBox', '0 0 10 8')
    .attr('refX', 10).attr('refY', 4)
    .attr('markerUnits', 'userSpaceOnUse')
    .attr('markerWidth', 12).attr('markerHeight', 9.6)
    .attr('orient', 'auto')
    .append('path').attr('d', 'M0,0L10,4L0,8Z').attr('fill', '#1a1a1a');

  svg.append('g').selectAll('line')
    .data(arrows)
    .join('line')
    .attr('x1', d => d[0]).attr('y1', d => d[1])
    .attr('x2', d => d[2]).attr('y2', d => d[3])
    .attr('stroke', '#1a1a1a').attr('stroke-width', 1.1)
    .attr('marker-end', 'url(#arrow-head)');

  geneNames.forEach((name, i) => {
    const label = svg.append('text')
      .attr('class', 'gene')
      .attr('x', geneLabelX[i]).attr('y', geneLabelY[i])
      .attr('font-size', 19.5);
    label.append('tspan')
      .attr('class', geneUnderlined[i] ? 'name' : null)
      .text(name);
    if (geneStars[i]) label.append('tspan').text('*');
  });
}

renderPoints();
renderAxes();
renderAnnotations();
</script>
</body>
</html>
